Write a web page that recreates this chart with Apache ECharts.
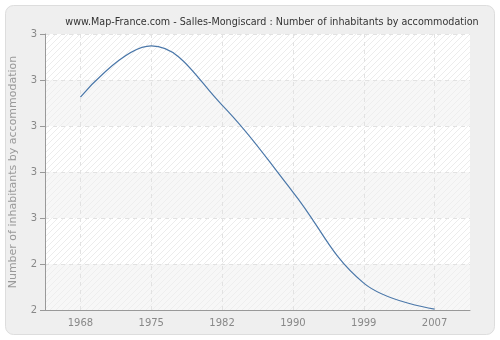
<!DOCTYPE html>
<html><head><meta charset="utf-8">
<script src="https://cdn.jsdelivr.net/npm/echarts@6/dist/echarts.min.js"></script>
<style>html,body{margin:0;padding:0;background:#fff}#c{width:500px;height:340px}</style>
</head><body><div id="c"></div>
<script>
var years = ['1968','1975','1982','1990','1999','2007'];
var values = [3.126, 3.348, 3.091, 2.713, 2.317, 2.204];
var titleText = 'www.Map-France.com - Salles-Mongiscard : Number of inhabitants by accommodation';
var yName = 'Number of inhabitants by accommodation';

var pc = document.createElement('canvas');
pc.width = 6; pc.height = 6;
var g = pc.getContext('2d');
g.fillStyle = '#ffffff'; g.fillRect(0,0,6,6);
g.strokeStyle = '#ececec'; g.lineWidth = 1;
g.beginPath();
g.moveTo(-1,7); g.lineTo(7,-1);
g.moveTo(-1,1); g.lineTo(1,-1);
g.moveTo(5,7); g.lineTo(7,5);
g.stroke();

var chart = echarts.init(document.getElementById('c'));
chart.setOption({
  animation: false,
  backgroundColor: '#ffffff',
  graphic: [{type:'rect', z:-10, shape:{x:5.5,y:5.5,width:489,height:329,r:8}, style:{fill:'#efefef', stroke:'#dddddd', lineWidth:1}}],
  title: {text: titleText, left: 267, textAlign: 'center', top: 12,
    textStyle:{fontSize:9.6, fontWeight:'normal', color:'#333', fontFamily:'DejaVu Sans'}},
  grid: {left: 40, right: 30, top: 34, bottom: 30, show: true,
    backgroundColor: {image: pc, repeat: 'repeat'}, borderWidth: 0},
  xAxis: {type:'category', data: years, boundaryGap: true,
    axisLine:{lineStyle:{color:'#999'}},
    axisTick:{alignWithLabel:true, length:5, lineStyle:{color:'#999'}},
    axisLabel:{color:'#888', fontSize:10, fontFamily:'DejaVu Sans', margin:8},
    splitLine:{show:false}},
  yAxis: {type:'value', min:2.2, max:3.4, interval:0.2,
    name: yName, nameLocation:'middle', nameGap:26,
    nameTextStyle:{color:'#999', fontSize:11, fontFamily:'DejaVu Sans'},
    axisLine:{show:true, lineStyle:{color:'#999'}},
    axisTick:{show:true, length:5, lineStyle:{color:'#999'}},
    axisLabel:{color:'#888', fontSize:10, fontFamily:'DejaVu Sans', margin:8,
      formatter:function(v){return String(Math.round(v));}},
    splitLine:{show:true, lineStyle:{color:'#e2e2e2', type:[4,4]}},
    splitArea:{show:true, areaStyle:{color:['rgba(240,240,240,0.55)','rgba(255,255,255,0)']}}},
  series: [{type:'line', data: values, smooth: 0.4, symbol:'none', z: 3,
    lineStyle:{color:'#4a77a9', width:1.2},
    markLine:{silent:true, symbol:'none', label:{show:false}, z: 1,
      lineStyle:{color:'#e2e2e2', type:[4,4], width:1},
      data: years.map(function(y){return {xAxis: y};})}}]
});
</script></body></html>
